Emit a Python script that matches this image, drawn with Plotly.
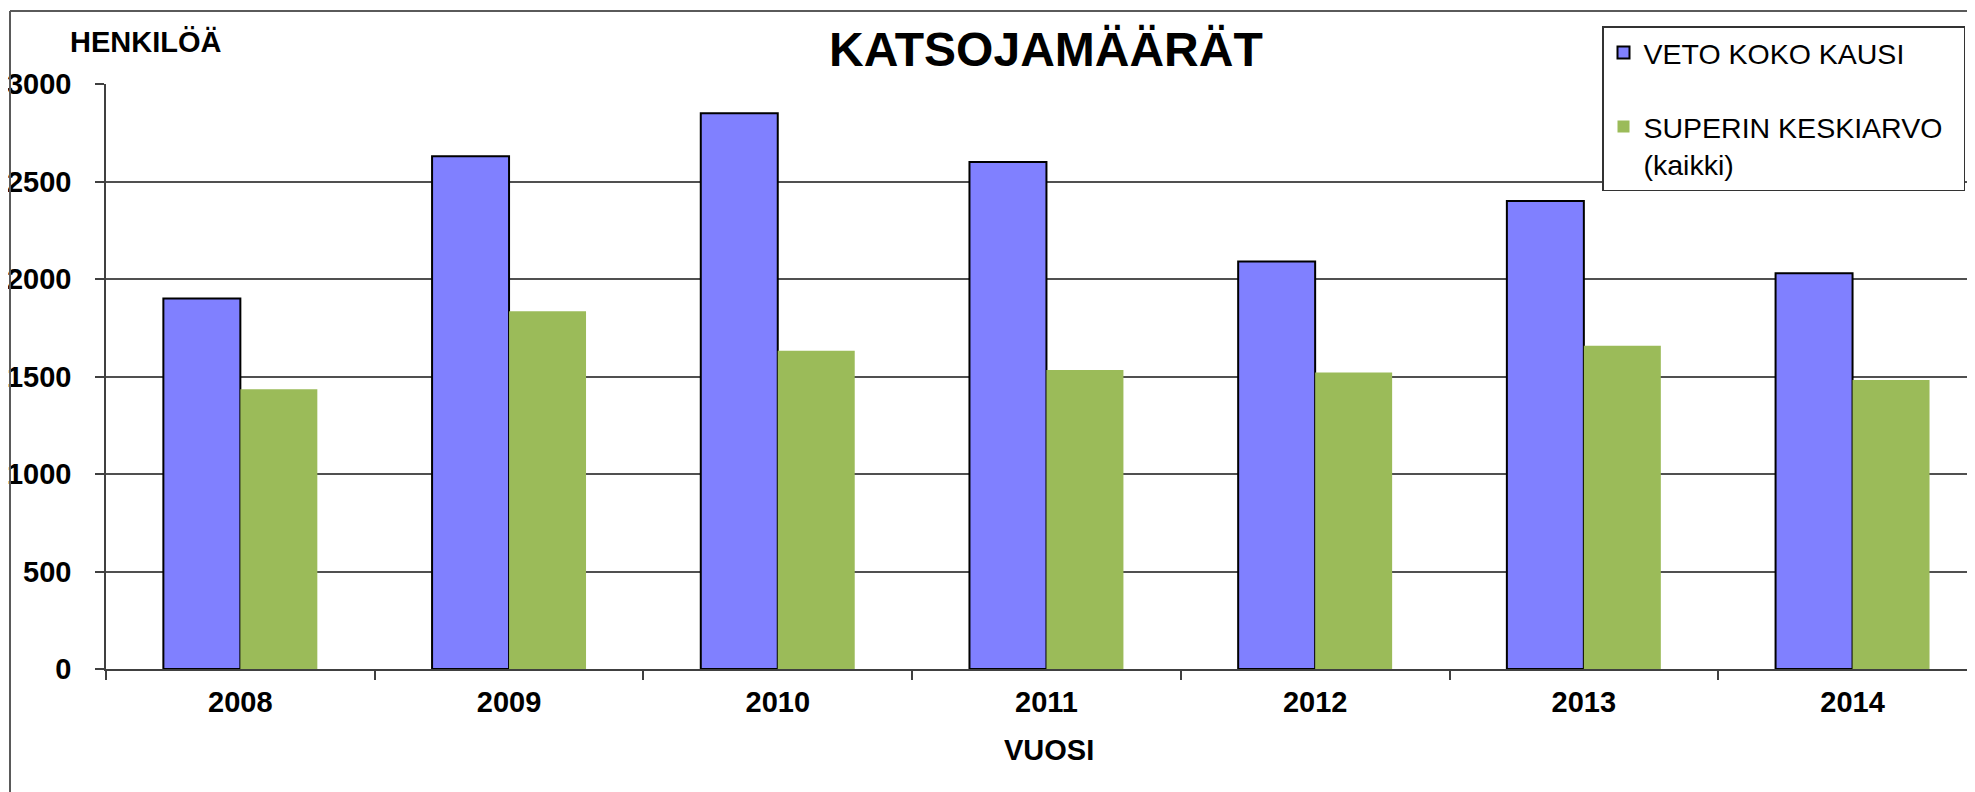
import plotly.graph_objects as go

years = ["2008", "2009", "2010", "2011", "2012", "2013", "2014"]
veto_koko_kausi = [1900, 2630, 2850, 2600, 2090, 2400, 2030]
superin_keskiarvo = [1435, 1835, 1632, 1533, 1520, 1658, 1482]
y_ticks = [0, 500, 1000, 1500, 2000, 2500, 3000]

OFF = 8  # default page body margin
W, H = 1975 - OFF, 792 - OFF
L, R, T, B = 106 - OFF, 1975 - OFF, 84 - OFF, 669 - OFF
FONT = "Liberation Sans, Arial, sans-serif"


def xp(px):
    return (px - OFF - L) / (R - L)


def yp(py):
    return (B - (py - OFF)) / (B - T)


fig = go.Figure()
fig.add_trace(go.Bar(
    x=years, y=veto_koko_kausi, name="VETO KOKO KAUSI",
    marker=dict(color="#8080FF", line=dict(color="#000000", width=2)),
    legendgroup="a",
))
fig.add_trace(go.Bar(
    x=years, y=superin_keskiarvo,
    name="SUPERIN KESKIARVO\u00a0\u00a0<br>(kaikki)",
    marker=dict(color="#9BBB59", line=dict(color="#9BBB59", width=0)),
    legendgroup="b",
))

cat_w = 268.7
n_vis = (R - L) / cat_w

fig.update_layout(
    width=W, height=H,
    margin=dict(l=L, r=W - R, t=T, b=H - B, autoexpand=False),
    paper_bgcolor="white", plot_bgcolor="white",
    barmode="group", bargap=0.427, bargroupgap=0,
    font=dict(family=FONT, color="black"),
    showlegend=True,
    legend=dict(
        x=xp(1602), y=yp(26), xanchor="left", yanchor="top",
        bgcolor="white", bordercolor="#333333", borderwidth=1.5,
        font=dict(family=FONT, size=28.5, color="black"),
        tracegroupgap=34, valign="top", traceorder="grouped",
    ),
    xaxis=dict(
        type="category", range=[-0.5, -0.5 + n_vis],
        tickson="boundaries", ticks="outside", ticklen=9, tickwidth=1.5,
        tickcolor="#404040", showline=True, linecolor="#404040", linewidth=1.5,
        showgrid=False, zeroline=False,
        tickfont=dict(family=FONT, size=29, color="black", weight="bold"),
        ticklabelstandoff=6,
    ),
    yaxis=dict(
        range=[0, 3000], tickvals=y_ticks,
        ticks="outside", ticklen=9, tickwidth=1.5, tickcolor="#404040",
        showline=True, linecolor="#404040", linewidth=1.5,
        showgrid=True, gridcolor="#505050", gridwidth=1.5, zeroline=False,
        tickfont=dict(family=FONT, size=29, color="black", weight="bold"),
        ticklabelstandoff=18,
    ),
    annotations=[
        dict(text="KATSOJAMÄÄRÄT", xref="paper", yref="paper",
             x=xp(1045.5), y=yp(50), xanchor="center", yanchor="middle",
             showarrow=False, font=dict(family=FONT, size=48, color="black", weight="bold")),
        dict(text="HENKILÖÄ", xref="paper", yref="paper",
             x=xp(146), y=yp(42), xanchor="center", yanchor="middle",
             showarrow=False, font=dict(family=FONT, size=29, color="black", weight="bold")),
        dict(text="VUOSI", xref="paper", yref="paper",
             x=xp(1049), y=yp(750), xanchor="center", yanchor="middle",
             showarrow=False, font=dict(family=FONT, size=29, color="black", weight="bold")),
    ],
    shapes=[
        dict(type="line", xref="paper", yref="paper", x0=xp(10), x1=xp(10),
             y0=yp(11), y1=yp(800), line=dict(color="#5a5a5a", width=2), layer="above"),
        dict(type="line", xref="paper", yref="paper", x0=xp(10), x1=xp(1990),
             y0=yp(11), y1=yp(11), line=dict(color="#5a5a5a", width=2), layer="above"),
    ],
)

fig.write_html("out.html")
